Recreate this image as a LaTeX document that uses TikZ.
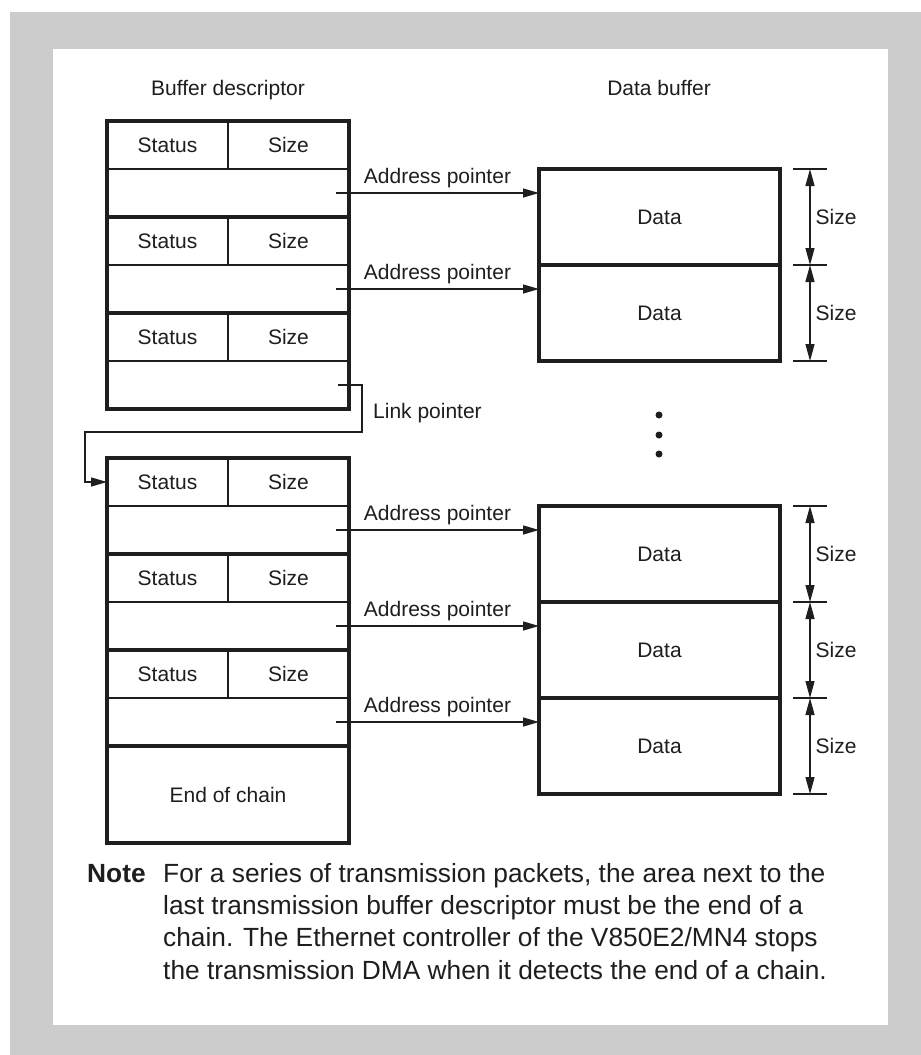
\documentclass[tikz,border=0pt]{standalone}
\usepackage{fontspec}
\setmainfont{Liberation Sans}
\usetikzlibrary{arrows.meta}
\definecolor{ink}{HTML}{1E1E1E}
\definecolor{framegrey}{HTML}{CCCCCC}
\newcommand\lblfont{\fontsize{21}{25}\selectfont}
\newcommand\notefont{\fontsize{26.3}{32}\selectfont}

\begin{document}
\begin{tikzpicture}[x=1pt,y=-1pt,
  cell/.style={draw=ink, line width=1.2pt, minimum height=48pt, inner sep=0pt,
    outer sep=0pt, anchor=north west, font=\lblfont, text=ink},
  halfcell/.style={cell, minimum width=121pt},
  fullcell/.style={cell, minimum width=242pt},
  frame/.style={draw=ink, line width=3.1pt},
  databox/.style={draw=ink, line width=3.1pt, minimum width=241pt, minimum height=96pt,
    inner sep=0pt, outer sep=0pt, anchor=north west, font=\lblfont, text=ink},
  ptr/.style={draw=ink, line width=1.3pt, -{Triangle[length=16pt,width=9pt]}},
  dimline/.style={draw=ink, line width=1.3pt,
    {Triangle[length=17pt,width=9pt]}-{Triangle[length=17pt,width=9pt]}},
  tickline/.style={draw=ink, line width=1.3pt},
  lbl/.style={font=\lblfont, text=ink, inner sep=0pt},
  ptrlabel/.style={lbl, above=4.5pt},
  sizelabel/.style={lbl, right=5pt},
  dot/.style={circle, fill=ink, minimum size=7pt, inner sep=0pt},
  notetext/.style={font=\notefont, text=ink, inner sep=0pt, anchor=base west},
]
\useasboundingbox (0,0) rectangle (921,1055);
% page background and grey frame
\fill[white] (0,0) rectangle (921,1055);
\fill[framegrey] (10,12) rectangle (921,1055);
\fill[white] (53,49) rectangle (888,1025);

% column titles
\node[lbl, anchor=base] (bdtitle) at (228,95) {Buffer descriptor};
\node[lbl, anchor=base] (dbtitle) at (659,95) {Data buffer};

% first descriptor block
\foreach \i/\y in {1/121, 2/217, 3/313} {
  \node[halfcell] (st\i) at (107,\y) {Status};
  \node[halfcell] (sz\i) at (228,\y) {Size};
  \node[fullcell] (ad\i) at (107,\y+48) {};
}
\draw[frame] (st1.north west) rectangle (ad3.south east);
\draw[frame] (ad1.south west) -- (ad1.south east);
\draw[frame] (ad2.south west) -- (ad2.south east);

% second descriptor block
\foreach \i/\y in {4/458, 5/554, 6/650} {
  \node[halfcell] (st\i) at (107,\y) {Status};
  \node[halfcell] (sz\i) at (228,\y) {Size};
  \node[fullcell] (ad\i) at (107,\y+48) {};
}
\node[fullcell, minimum height=97pt] (eoc) at (107,746) {End of chain};
\draw[frame] (st4.north west) rectangle (eoc.south east);
\draw[frame] (ad4.south west) -- (ad4.south east);
\draw[frame] (ad5.south west) -- (ad5.south east);
\draw[frame] (ad6.south west) -- (ad6.south east);

% data buffers
\node[databox] (d1) at (539,169) {Data};
\node[databox] (d2) at (539,265) {Data};
\node[databox] (d3) at (539,506) {Data};
\node[databox] (d4) at (539,602) {Data};
\node[databox] (d5) at (539,698) {Data};

% address pointers
\foreach \a/\d in {ad1/d1, ad2/d2, ad4/d3, ad5/d4, ad6/d5} {
  \draw[ptr] ([xshift=-13pt]\a.east) -- node[ptrlabel] {Address pointer} (\a.east -| \d.west);
}

% link pointer to the next descriptor block
\coordinate (lkA) at (362,432);
\coordinate (lkB) at (85,432);
\draw[ptr] ([xshift=-11pt]ad3.east) -| (lkA) -- (lkB) |- (st4.west);
\node[lbl, anchor=base west] (lklabel) at (373,418) {Link pointer};

% size dimensions
\foreach \d in {d1, d2, d3, d4, d5} {
  \draw[tickline] ([xshift=13pt]\d.north east) -- ([xshift=47pt]\d.north east);
  \draw[tickline] ([xshift=13pt]\d.south east) -- ([xshift=47pt]\d.south east);
  \draw[dimline] ([xshift=30pt]\d.north east) -- node[sizelabel] {Size} ([xshift=30pt]\d.south east);
}

% continuation dots
\node[dot] (dotA) at (659,415) {};
\node[dot] (dotB) at (659,435) {};
\node[dot] (dotC) at (659,454) {};

% note
\node[notetext, font=\notefont\bfseries] (notehead) at (87,882) {Note};
\node[notetext] (noteA) at (163,882) {For a series of transmission packets, the area next to the};
\node[notetext] (noteB) at (163,914.3) {last transmission buffer descriptor must be the end of a};
\node[notetext] (noteC) at (163,946.6) {chain. The Ethernet controller of the V850E2/MN4 stops};
\node[notetext] (noteD) at (163,979) {the transmission DMA when it detects the end of a chain.};
\end{tikzpicture}
\end{document}
